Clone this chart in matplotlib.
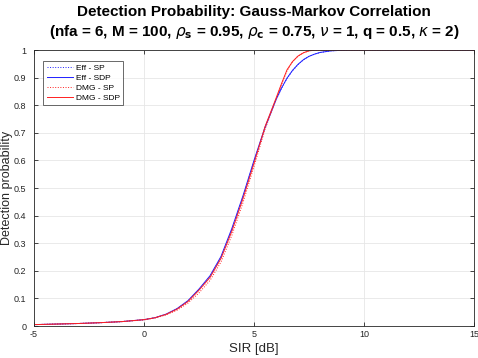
import matplotlib
matplotlib.use("Agg")
import matplotlib.pyplot as plt

plt.rcParams['font.family'] = ['Liberation Sans', 'DejaVu Sans']
plt.rcParams['mathtext.fontset'] = 'dejavusans'
plt.rcParams['axes.unicode_minus'] = False

# SIR grid [dB]
sir = [-5, -4, -3, -2, -1, 0, 0.5, 1, 1.5, 2, 2.5, 3, 3.5, 4, 4.5, 5, 5.5,
       6, 6.25, 6.5, 6.75, 7, 7.25, 7.5, 7.75, 8, 8.5, 9, 9.5, 10,
       11, 12, 13, 14, 15]

# detection probability
eff_sp = [0.005, 0.007, 0.009, 0.012, 0.016, 0.023, 0.030, 0.042, 0.062, 0.090,
          0.131, 0.179, 0.248, 0.350, 0.467, 0.596, 0.717,
          0.819, 0.861, 0.897, 0.925, 0.947, 0.965, 0.977, 0.985, 0.991, 0.997,
          0.999, 1.0, 1.0, 1.0, 1.0, 1.0, 1.0, 1.0]
eff_sdp = [0.005, 0.007, 0.009, 0.012, 0.016, 0.023, 0.030, 0.043, 0.063, 0.092,
           0.134, 0.182, 0.252, 0.355, 0.472, 0.600, 0.720,
           0.820, 0.862, 0.898, 0.926, 0.948, 0.965, 0.977, 0.985, 0.991, 0.997,
           0.999, 1.0, 1.0, 1.0, 1.0, 1.0, 1.0, 1.0]
dmg_sp = [0.005, 0.007, 0.009, 0.012, 0.016, 0.022, 0.029, 0.040, 0.057, 0.083,
          0.120, 0.165, 0.232, 0.330, 0.447, 0.578, 0.712,
          0.820, 0.874, 0.925, 0.957, 0.978, 0.990, 0.997, 0.9995, 1.0, 1.0,
          1.0, 1.0, 1.0, 1.0, 1.0, 1.0, 1.0, 1.0]
dmg_sdp = [0.005, 0.007, 0.009, 0.012, 0.016, 0.023, 0.030, 0.042, 0.061, 0.089,
           0.130, 0.176, 0.245, 0.345, 0.462, 0.590, 0.722,
           0.825, 0.878, 0.928, 0.958, 0.978, 0.990, 0.997, 0.9995, 1.0, 1.0,
           1.0, 1.0, 1.0, 1.0, 1.0, 1.0, 1.0, 1.0]

fig = plt.figure(figsize=(4.78, 3.58), dpi=100)
ax = fig.add_axes([34 / 478, 32 / 358, 440 / 478, 276 / 358])

ax.plot(sir, eff_sp, ':', color='#2020ff', lw=0.7, label='Eff - SP')
ax.plot(sir, eff_sdp, '-', color='#2020ff', lw=0.7, label='Eff - SDP')
ax.plot(sir, dmg_sp, ':', color='#ff2020', lw=0.7, label='DMG - SP')
ax.plot(sir, dmg_sdp, '-', color='#ff2020', lw=0.7, label='DMG - SDP')

ax.set_xlim(-5, 15)
ax.set_ylim(0, 1)
ax.set_xticks([-5, 0, 5, 10, 15])
ax.set_yticks([0, 0.1, 0.2, 0.3, 0.4, 0.5, 0.6, 0.7, 0.8, 0.9, 1])
ax.set_yticklabels(['0', '0.1', '0.2', '0.3', '0.4', '0.5', '0.6', '0.7',
                    '0.8', '0.9', '1'])
ax.grid(True, color='#e6e6e6', lw=0.6)
ax.set_axisbelow(True)
ax.tick_params(direction='in', length=3, width=0.6, labelsize=6.5,
               colors='#262626', top=True, right=True, pad=3)
ax.tick_params(axis='y', pad=5.5)
for s in ax.spines.values():
    s.set_color('#262626')
    s.set_linewidth(0.6)

ax.set_xlabel('SIR [dB]', fontsize=9.5, color='#262626', labelpad=3)
ax.set_ylabel('Detection probability', fontsize=9, color='#262626', va='center')
ax.yaxis.set_label_coords(-0.061, 0.5)

ax.set_title('Detection Probability: Gauss-Markov Correlation\n'
             r'(nfa = 6, M = 100, $\rho_\mathbf{s}$ = 0.95, $\rho_\mathbf{c}$ = 0.75, '
             r'$\nu$ = 1, q = 0.5, $\kappa$ = 2)',
             fontsize=11, fontweight='bold', pad=10, linespacing=1.3)

leg = ax.legend(loc='upper left', fontsize=6, frameon=True, fancybox=False,
                edgecolor='#262626', borderpad=0.4, handlelength=3.2,
                handletextpad=0.3, labelspacing=0.25,
                bbox_to_anchor=(0.012, 0.975))
leg.get_frame().set_linewidth(0.6)

fig.savefig('out.png', dpi=100)
